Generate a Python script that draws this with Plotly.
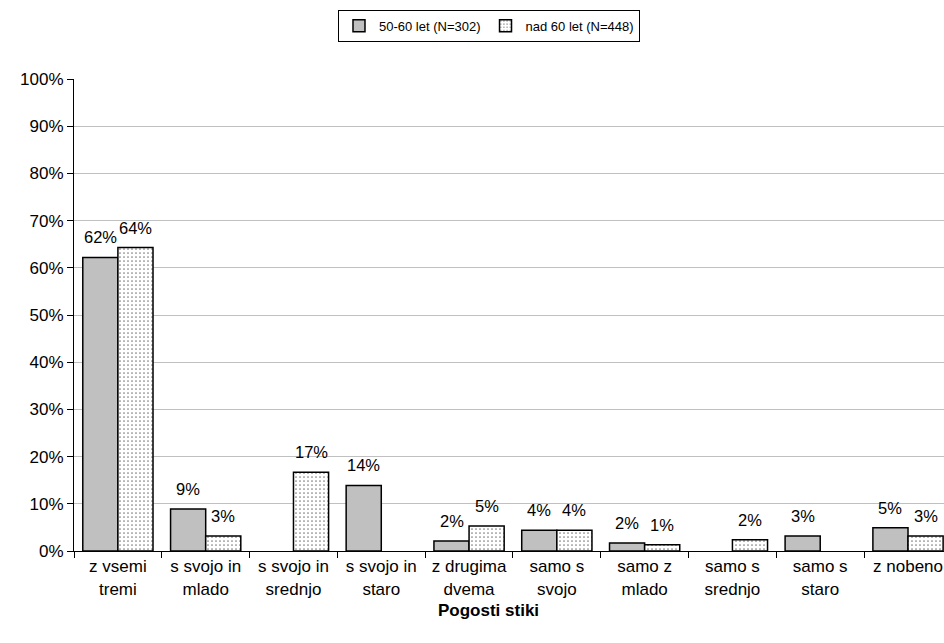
import plotly.graph_objects as go

categories = ["z vsemi<br>tremi", "s svojo in<br>mlado", "s svojo in<br>srednjo", "s svojo in<br>staro",
              "z drugima<br>dvema", "samo s<br>svojo", "samo z<br>mlado", "samo s<br>srednjo",
              "samo s<br>staro", "z nobeno"]
group_a_name = "50-60 let (N=302)"
group_b_name = "nad 60 let (N=448)"
group_a = [0.622, 0.089, None, 0.139, 0.021, 0.044, 0.017, None, 0.032, 0.049]
group_b = [0.643, 0.032, 0.167, None, 0.053, 0.044, 0.013, 0.024, None, 0.032]
y_ticks = [0, 0.1, 0.2, 0.3, 0.4, 0.5, 0.6, 0.7, 0.8, 0.9, 1.0]
x_title = "Pogosti stiki"

FONT = "Liberation Sans, Arial, sans-serif"

fig = go.Figure()
fig.add_trace(go.Bar(
    x=categories, y=group_a, name=group_a_name,
    marker=dict(color="#c0c0c0", line=dict(color="black", width=1.5)),
))
fig.add_trace(go.Bar(
    x=categories, y=group_b, name=group_b_name,
    marker=dict(color="white", line=dict(color="black", width=1.5),
                pattern=dict(shape=".", fgcolor="black", bgcolor="white", size=4, solidity=0.15)),
))

# value labels above each bar, lifted a little off the bar top
for offset, values in ((-0.2, group_a), (0.2, group_b)):
    for i, v in enumerate(values):
        if v is None:
            continue
        fig.add_annotation(
            x=i + offset, y=v, xref="x", yref="y",
            text=f"{round(v * 100):d}%", showarrow=False,
            yanchor="bottom", yshift=9,
            font=dict(size=16.5, color="black"),
        )

fig.add_annotation(
    x=0.476, y=-0.125, xref="paper", yref="paper",
    text=f"<b>{x_title}</b>", showarrow=False,
    xanchor="center", yanchor="middle",
    font=dict(size=17, color="black"),
)

fig.update_layout(
    width=944, height=643,
    margin=dict(l=74, r=0, t=79, b=92),
    paper_bgcolor="white", plot_bgcolor="white",
    font=dict(family=FONT, size=16, color="black"),
    barmode="group", bargap=0.2, bargroupgap=0,
    showlegend=True,
    legend=dict(
        orientation="h", xref="container", yref="container",
        x=0.518, y=0.96, xanchor="center", yanchor="middle",
        bordercolor="black", borderwidth=1, font=dict(size=13),
        itemwidth=30, tracegroupgap=0,
    ),
)
fig.update_xaxes(
    type="category", range=[-0.5, 9.41], automargin=False,
    showline=True, linecolor="black", linewidth=1,
    ticks="outside", tickson="boundaries", ticklen=6, tickcolor="black",
    tickfont=dict(size=17),
)
fig.update_yaxes(
    range=[0, 1.0], tickvals=y_ticks, tickformat=".0%", automargin=False,
    showline=True, linecolor="black", linewidth=1,
    ticks="outside", ticklen=6, tickcolor="black",
    showgrid=True, gridcolor="#c0c0c0", gridwidth=1,
    tickfont=dict(size=17), zeroline=False,
)

fig.write_html("out.html")
